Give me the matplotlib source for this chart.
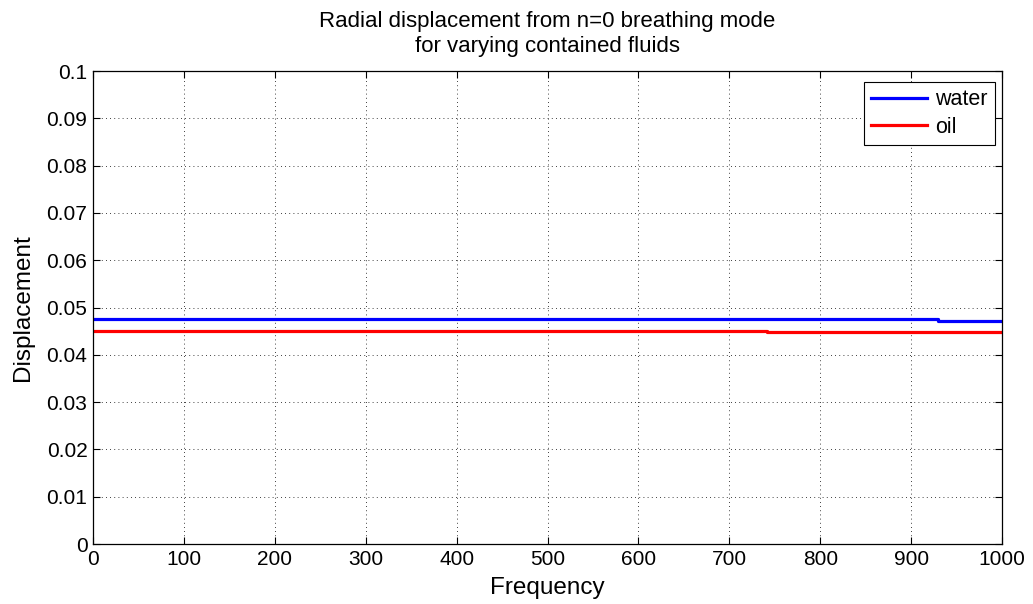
import numpy as np
import matplotlib.pyplot as plt

# values
freq_water = [0, 930, 1000]
disp_water = [0.0475, 0.0471, 0.0471]
freq_oil = [0, 742, 1000]
disp_oil = [0.0451, 0.0448, 0.0448]

plt.rcParams.update(
    {
        "font.family": ["Liberation Sans", "DejaVu Sans"],
        "font.size": 15,
        "xtick.direction": "in",
        "ytick.direction": "in",
        "xtick.top": True,
        "ytick.right": True,
    }
)

fig = plt.figure(figsize=(10.33, 6.04), dpi=100)
ax = fig.add_axes([93 / 1033, 60 / 604, 909 / 1033, 473 / 604])

ax.plot(freq_water, disp_water, drawstyle="steps-post", color="#0000ff", lw=2.3, label="water")
ax.plot(freq_oil, disp_oil, drawstyle="steps-post", color="#ff0000", lw=2.3, label="oil")

ax.set_xlim(0, 1000)
ax.set_ylim(0, 0.1)
ax.set_xticks(np.arange(0, 1001, 100))
ax.set_yticks(np.arange(0, 0.101, 0.01))
ax.set_yticklabels(["0", "0.01", "0.02", "0.03", "0.04", "0.05", "0.06", "0.07", "0.08", "0.09", "0.1"])
ax.grid(True, color="black", linestyle=(0, (1, 4)), linewidth=0.6)
ax.tick_params(length=5, width=0.8, labelsize=15, pad=4)
for s in ax.spines.values():
    s.set_linewidth(0.9)

ax.set_xlabel("Frequency", fontsize=17.5, labelpad=6)
ax.set_ylabel("Displacement", fontsize=17.5, labelpad=9)
ax.set_title("Radial displacement from n=0 breathing mode\nfor varying contained fluids", fontsize=16, pad=14)

leg = ax.legend(loc="upper right", bbox_to_anchor=(0.992, 0.977), fancybox=False, framealpha=1,
                edgecolor="black", borderaxespad=0, handlelength=2.6, fontsize=15.5,
                borderpad=0.35, labelspacing=0.3, handletextpad=0.35)
leg.get_frame().set_linewidth(0.8)

fig.savefig("out.png", dpi=100)
